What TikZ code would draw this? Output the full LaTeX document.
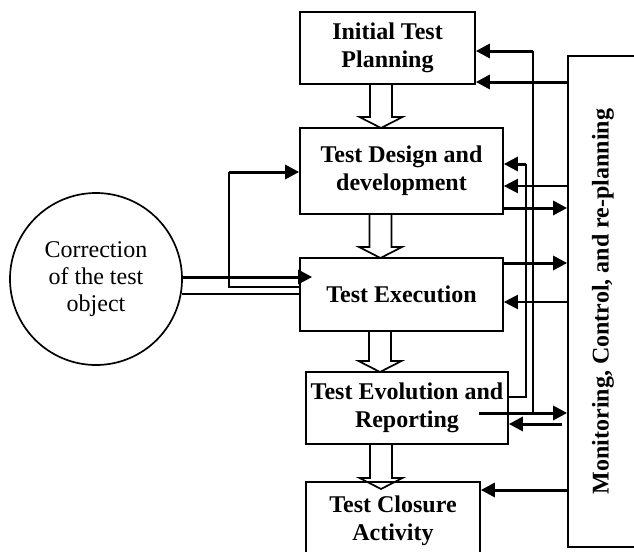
\documentclass[tikz,border=0pt]{standalone}
\usepackage{fontspec}
\setmainfont{Liberation Serif}
\usetikzlibrary{arrows.meta}
\begin{document}
\begin{tikzpicture}[x=0.5pt,y=-0.5pt,
  box/.style={draw,line width=0.85pt,inner sep=0pt,align=center,font=\bfseries\fontsize{12}{14}\selectfont},
  thk/.style={line width=1.5pt},
  med/.style={line width=1.1pt},
  thn/.style={line width=0.8pt},
  arr/.style={-{Triangle[length=7pt,width=7pt]}},
  hollow/.style={draw,line width=0.85pt,line join=miter}]
\clip (0,0) rectangle (634,552);
% boxes
\node[box,minimum width=87.5pt,minimum height=36pt] (b1) at (387.5,48) {Initial Test\\Planning};
\node[box,minimum width=101.5pt,minimum height=43pt] (b2) at (401.5,171) {Test Design and\\development};
\node[box,minimum width=101.5pt,minimum height=36.5pt] (b3) at (401.5,294.5) {Test Execution};
\node[box,minimum width=101pt,minimum height=36pt] (b4) at (407,408) {Test Evolution and\\Reporting};
\node[box,minimum width=87pt,minimum height=39pt] (b5) at (393,521) {Test Closure\\Activity};
\node[draw,line width=0.85pt,minimum width=35pt,minimum height=245.5pt,inner sep=0pt] (mon) at (603,301.5) {};
\node[rotate=90,font=\bfseries\fontsize{12}{14}\selectfont] (montext) at (mon.center) {Monitoring, Control, and re-planning};
\node[circle,draw,line width=0.85pt,minimum size=86pt,inner sep=0pt,align=center,font=\fontsize{12}{13.5}\selectfont] (circ) at (96,279) {Correction\\of the test\\object};
% hollow arrows
\foreach \cx/\ya/\yb in {381/84/128, 380.5/214/258, 380/331/372, 381/444/489}
  \draw[hollow] (\cx-11,\ya) -- (\cx-11,\yb-11) -- (\cx-21.5,\yb-11) -- (\cx,\yb) -- (\cx+21.5,\yb-11) -- (\cx+11,\yb-11) -- (\cx+11,\ya);
% monitoring -> initial planning
\draw[thk,arr] (mon.west |- 0,82) -- (b1.east |- 0,82);
% evolution -> monitoring and feedback to initial planning
\coordinate (r1) at (533,413);
\coordinate (r2) at (533,51);
\draw[thk,arr] ([xshift=-15pt]b4.east |- r1) -- (mon.west |- r1);
\draw[thn] (r1) -- (r2);
\draw[thk,arr] (r2) -- (b1.east |- r2);
% evolution -> design
\coordinate (s1) at (526,397);
\coordinate (s2) at (526,164);
\draw[thn] (b4.east |- s1) -- (s1) -- (s2);
\draw[thk,arr] (s2) -- (b2.east |- s2);
% monitoring <-> design
\draw[med,arr] (mon.west |- 0,186) -- (b2.east |- 0,186);
\draw[thk,arr] (b2.east |- 0,208) -- (mon.west |- 0,208);
% monitoring <-> execution
\draw[thk,arr] (b3.east |- 0,263) -- (mon.west |- 0,263);
\draw[med,arr] (mon.west |- 0,302) -- (b3.east |- 0,302);
% monitoring -> evolution
\draw[thk,arr] ([xshift=-2.5pt]mon.west |- 0,424) -- (b4.east |- 0,424);
% monitoring -> closure
\draw[thk,arr] (mon.west |- 0,490) -- (b5.east |- 0,490);
% correction object
\draw[thk,arr] ([yshift=1pt]circ.east) -- ([xshift=6.5pt]b3.west |- 0,277);
\draw[thn] (circ.-10) -- (b3.west |- circ.-10);
\coordinate (c1) at (229,287);
\coordinate (c2) at (229,172);
\draw[thn] (b3.west |- c1) -- (c1) -- (c2);
\draw[thk,arr] (c2) -- (b2.west |- c2);
\end{tikzpicture}
\end{document}
